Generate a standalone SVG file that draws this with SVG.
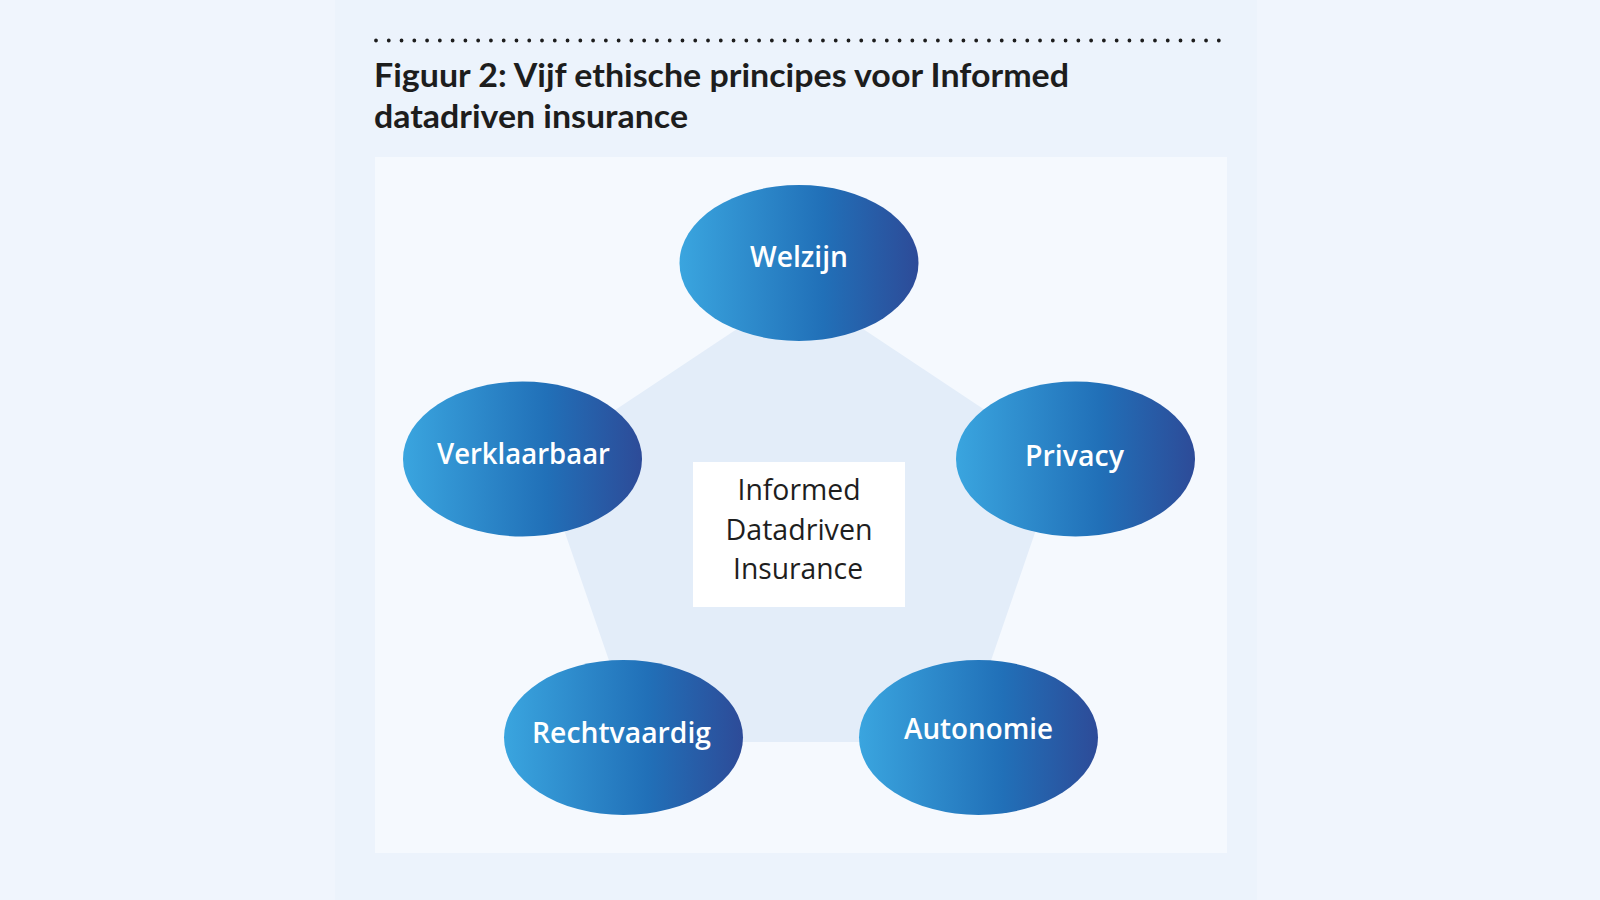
<svg xmlns="http://www.w3.org/2000/svg" width="1600" height="900" viewBox="0 0 1600 900">
  <defs>
    <linearGradient id="blueGrad" x1="0" y1="0" x2="1" y2="0">
      <stop offset="0" stop-color="#3aa5df"/>
      <stop offset="0.6" stop-color="#2170b8"/>
      <stop offset="1" stop-color="#2d4b98"/>
    </linearGradient>
    <style>
      .title { font-family: "Lato", "Liberation Sans", sans-serif; font-weight: 700; font-size: 33px; fill: #1d1d1d; }
      .node-shape { fill: url(#blueGrad); }
      .node-label { font-family: "Open Sans", "Lato", sans-serif; font-weight: 600; font-size: 29px; fill: #ffffff; text-anchor: middle; }
      .center-label { font-family: "Open Sans", "Noto Sans", sans-serif; font-weight: 500; font-size: 29px; fill: #1e1e1e; text-anchor: middle; }
    </style>
  </defs>

  <!-- background -->
  <rect x="0" y="0" width="1600" height="900" fill="#f0f5fd"/>
  <rect x="335" y="0" width="922" height="900" fill="#ecf3fc"/>

  <!-- dotted rule -->
  <line x1="376" y1="40.5" x2="1220" y2="40.5" stroke="#1d1d1d" stroke-width="3.8" stroke-linecap="round" stroke-dasharray="0 12.77"/>

  <!-- title -->
  <text class="title" x="374" y="87" textLength="695" lengthAdjust="spacingAndGlyphs">Figuur 2: Vijf ethische principes voor Informed</text>
  <text class="title" x="374" y="128" textLength="314" lengthAdjust="spacingAndGlyphs">datadriven insurance</text>

  <!-- panel -->
  <rect x="375" y="157" width="852" height="696" fill="#f5f9fe"/>

  <!-- pentagon background -->
  <g id="pentagon">
    <polygon points="800,287 1060,460 963,742 637,742 540,460" fill="#e3edf9"/>
  </g>

  <g id="connectors"></g>

  <!-- center -->
  <g id="center">
    <rect x="693" y="462" width="212" height="145" fill="#ffffff"/>
    <text class="center-label" x="799" y="500" textLength="123" lengthAdjust="spacingAndGlyphs">Informed</text>
    <text class="center-label" x="799" y="540" textLength="147" lengthAdjust="spacingAndGlyphs">Datadriven</text>
    <text class="center-label" x="798" y="579" textLength="130" lengthAdjust="spacingAndGlyphs">Insurance</text>
  </g>

  <g id="welzijn">
    <ellipse class="node-shape" cx="799" cy="263" rx="119.5" ry="78"/>
    <text class="node-label" x="799" y="267" textLength="98" lengthAdjust="spacingAndGlyphs">Welzijn</text>
  </g>

  <g id="verklaarbaar">
    <ellipse class="node-shape" cx="522.5" cy="459" rx="119.5" ry="77.5"/>
    <text class="node-label" x="523.5" y="464" textLength="173" lengthAdjust="spacingAndGlyphs">Verklaarbaar</text>
  </g>

  <g id="privacy">
    <ellipse class="node-shape" cx="1075.5" cy="459" rx="119.5" ry="77.5"/>
    <text class="node-label" x="1074.5" y="466" textLength="99" lengthAdjust="spacingAndGlyphs">Privacy</text>
  </g>

  <g id="rechtvaardig">
    <ellipse class="node-shape" cx="623.5" cy="737.5" rx="119.5" ry="77.5"/>
    <text class="node-label" x="621.5" y="743" textLength="179" lengthAdjust="spacingAndGlyphs">Rechtvaardig</text>
  </g>

  <g id="autonomie">
    <ellipse class="node-shape" cx="978.5" cy="737.5" rx="119.5" ry="77.5"/>
    <text class="node-label" x="978.5" y="739" textLength="149" lengthAdjust="spacingAndGlyphs">Autonomie</text>
  </g>
</svg>
